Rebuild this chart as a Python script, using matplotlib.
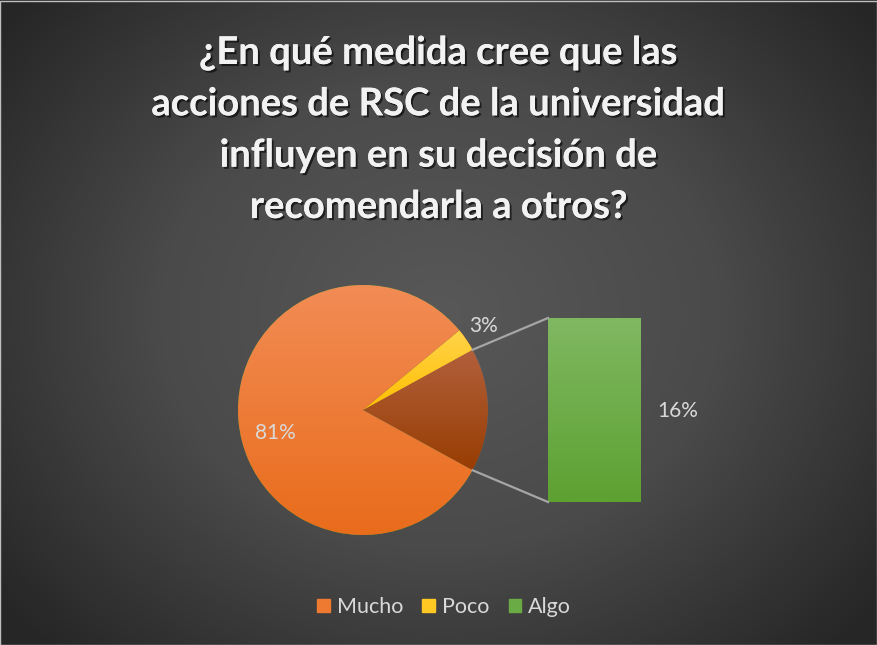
import matplotlib.pyplot as plt
import matplotlib.patheffects as pe
import numpy as np
from matplotlib.colors import LinearSegmentedColormap

# Data
categories = ["Mucho", "Poco", "Algo"]
values = [81, 3, 16]
title = ("¿En qué medida cree que las\nacciones de RSC de la universidad\n"
         "influyen en su decisión de\nrecomendarla a otros?")

# Colours (top, bottom) for the gradient fills
grad = {
    "Mucho": ("#f28c55", "#e96c1b"),
    "Poco": ("#ffd34a", "#ffc000"),
    "Algo_pie": ("#b2603c", "#983d02"),
    "Algo": ("#80b862", "#5da131"),
}
legend_col = {"Mucho": "#ee7a32", "Poco": "#ffc823", "Algo": "#6aab45"}

W, H = 878, 645
fig = plt.figure(figsize=(W / 100, H / 100), dpi=100)
ax = fig.add_axes([0, 0, 1, 1])
ax.set_xlim(0, W)
ax.set_ylim(0, H)
ax.set_aspect("equal")
ax.axis("off")

# radial background
yy, xx = np.mgrid[0:H, 0:W]
r = np.sqrt(((xx - 440) / 560) ** 2 + ((yy - 330) / 470) ** 2)
bg = LinearSegmentedColormap.from_list("bg", ["#585858", "#4a4a4a", "#262626"])
ax.imshow(np.clip(r, 0, 1), cmap=bg, extent=[0, W, 0, H], origin="lower",
          vmin=0, vmax=1, zorder=0)
ax.add_patch(plt.Rectangle((0.5, 0.5), W - 1, H - 1, fill=False,
                           ec="#bfbfbf", lw=1, zorder=10))


def gradient_fill(patch, top, bottom):
    x0, y0, x1, y1 = patch.get_window_extent().extents
    inv = ax.transData.inverted()
    (dx0, dy0), (dx1, dy1) = inv.transform([(x0, y0), (x1, y1)])
    cmap = LinearSegmentedColormap.from_list("g", [bottom, top])
    img = ax.imshow(np.linspace(0, 1, 256).reshape(-1, 1), cmap=cmap,
                    extent=[dx0, dx1, dy0, dy1], origin="lower",
                    aspect="auto", zorder=patch.get_zorder() + 0.1)
    img.set_clip_path(patch)


# Pie: Algo wedge is centered on the right side
total = sum(values)
order = [2, 1, 0]
pie_vals = [values[i] for i in order]
start = -values[2] / total * 360 / 2
cx, cy, rad = 363, 235, 125
wedges, _ = ax.pie(pie_vals, center=(cx, cy), radius=rad, startangle=start,
                   counterclock=True, frame=True,
                   wedgeprops=dict(linewidth=0))
ax.set_xlim(0, W)
ax.set_ylim(0, H)
ax.axis("off")
fig.canvas.draw()
keys = ["Algo_pie", "Poco", "Mucho"]
for w, k in zip(wedges, keys):
    gradient_fill(w, *grad[k])

# Bar for the exploded Algo share
bx, bw, bbot, bh = 594.5, 93, 143, 184
bars = ax.bar([bx], [bh * values[2] / values[2]], width=bw, bottom=bbot,
              color=legend_col["Algo"], linewidth=0, zorder=2)
fig.canvas.draw()
gradient_fill(bars[0], *grad["Algo"])

# Connector lines
a1 = np.deg2rad(start + values[2] / total * 360)
a0 = np.deg2rad(start)
ax.plot([cx + rad * np.cos(a1), bx - bw / 2], [cy + rad * np.sin(a1), bbot + bh],
        color="#a6a6a6", lw=1.6, zorder=3)
ax.plot([cx + rad * np.cos(a0), bx - bw / 2], [cy + rad * np.sin(a0), bbot],
        color="#a6a6a6", lw=1.6, zorder=3)

# Data labels
lab = dict(color="#d9d9d9", fontsize=15, family="Lato", ha="center", va="center",
           zorder=5)
ax.text(275, H - 433, f"{values[0]}%", **lab)
ax.text(484, H - 326, f"{values[1]}%", **lab)
ax.text(678, H - 411, f"{values[2]}%", **lab)

# Title
ax.text(W / 2, H - 130, title, color="#f2f2f2", fontsize=27.5, family="Lato",
        fontweight="bold", ha="center", va="center", linespacing=1.62,
        zorder=5,
        path_effects=[pe.withSimplePatchShadow(offset=(1.5, -1.5),
                                               shadow_rgbFace="black", alpha=0.6),
                      pe.Normal()])

# Legend
handles = [plt.Rectangle((0, 0), 1, 1, color=legend_col[c]) for c in categories]
leg = ax.legend(handles, categories, loc="center", bbox_to_anchor=(444 / W, 1 - 607 / H),
                bbox_transform=fig.transFigure, ncol=3, frameon=False,
                handlelength=0.6, handleheight=0.6, handletextpad=0.3,
                columnspacing=0.9, prop=dict(family="Lato", size=15.5))
for t in leg.get_texts():
    t.set_color("#d9d9d9")

fig.savefig("out.png", dpi=100)
